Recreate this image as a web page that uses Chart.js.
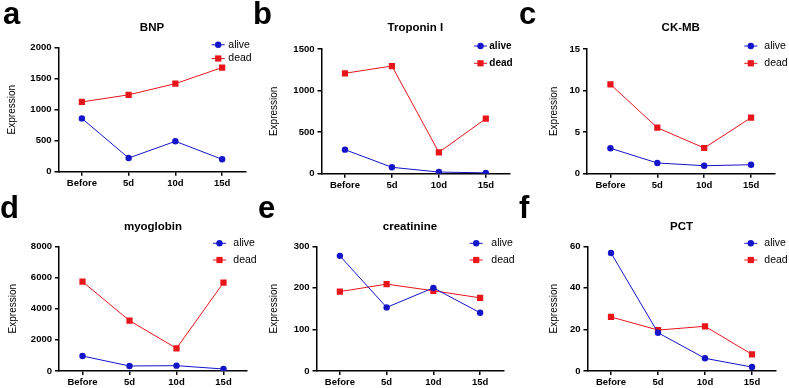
<!DOCTYPE html>
<html><head><meta charset="utf-8">
<script src="https://cdn.jsdelivr.net/npm/chart.js@4.4.0/dist/chart.umd.min.js"></script>
<style>
html,body{margin:0;padding:0;background:#fff;}
#wrap{position:relative;width:789px;height:388px;overflow:hidden;background:#fff;}
.panel{position:absolute;width:263px;height:194px;}
.panel canvas{display:block;}
.letter{position:absolute;font:bold 31px "Liberation Sans",Arial,sans-serif;line-height:31px;color:#000;}
</style></head><body>
<div id="wrap">
  <div class="panel" style="left:0;top:0"><canvas id="c0" width="263" height="194"></canvas></div>
  <div class="panel" style="left:263px;top:0"><canvas id="c1" width="263" height="194"></canvas></div>
  <div class="panel" style="left:526px;top:0"><canvas id="c2" width="263" height="194"></canvas></div>
  <div class="panel" style="left:0;top:194px"><canvas id="c3" width="263" height="194"></canvas></div>
  <div class="panel" style="left:263px;top:194px"><canvas id="c4" width="263" height="194"></canvas></div>
  <div class="panel" style="left:526px;top:194px"><canvas id="c5" width="263" height="194"></canvas></div>
  <div class="letter" style="left:3px;top:-2px">a</div>
  <div class="letter" style="left:253px;top:-2px">b</div>
  <div class="letter" style="left:519px;top:-2px">c</div>
  <div class="letter" style="left:0px;top:192px">d</div>
  <div class="letter" style="left:258px;top:192px">e</div>
  <div class="letter" style="left:519px;top:192px">f</div>
</div>
<script>
const categories = ['Before', '5d', '10d', '15d'];
const seriesNames = ['alive', 'dead'];
const panelTitles = ['BNP', 'Troponin I', 'CK-MB', 'myoglobin', 'creatinine', 'PCT'];
const yAxisTitle = 'Expression';
const yMaxValues = [2000, 1500, 15, 8000, 300, 60];
const yStepValues = [500, 500, 5, 2000, 100, 20];

const bnpAlive = [860, 220, 490, 200];
const bnpDead = [1125, 1240, 1420, 1680];
const troponinAlive = [289, 77, 20, 10];
const troponinDead = [1208, 1295, 257, 662];
const ckmbAlive = [3.06, 1.29, 0.96, 1.08];
const ckmbDead = [10.75, 5.53, 3.09, 6.74];
const myoglobinAlive = [962, 321, 342, 128];
const myoglobinDead = [5730, 3229, 1454, 5668];
const creatinineAlive = [277, 153, 200, 140];
const creatinineDead = [191, 209, 193, 176];
const pctAlive = [56.8, 18.4, 6.1, 1.9];
const pctDead = [26, 19.7, 21.5, 8.0];

const aliveSeries = [bnpAlive, troponinAlive, ckmbAlive, myoglobinAlive, creatinineAlive, pctAlive];
const deadSeries = [bnpDead, troponinDead, ckmbDead, myoglobinDead, creatinineDead, pctDead];

// layout (positions only)
const FONT = '"Liberation Sans", Arial, Helvetica, sans-serif';
const BLUE = '#1414c8';
const RED = '#e8151b';
const layouts = [
  {L:58.5, R:245.5, T:47.7, B:171.7, yt:6.7, ty:28.3, lx:211.7, tx:228.3, ly:[44.8, 58.5], bold:false},
  {L:58.5, R:246.3, T:49,   B:173.7, yt:5.7, ty:28.3, lx:211,   tx:226.3, ly:[46, 63.3],   bold:true},
  {L:61,   R:248.5, T:49,   B:173.7, yt:22.3,ty:28,   lx:218.3, tx:238.3, ly:[46, 63.3],   bold:false},
  {L:59,   R:247,   T:52.3, B:177,   yt:7.3, ty:33.3, lx:213,   tx:233.3, ly:[49.3, 66],   bold:false},
  {L:53.5, R:240.5, T:52.3, B:177,   yt:5,   ty:33.3, lx:206.7, tx:228.3, ly:[49.3, 66],   bold:false},
  {L:61.5, R:249.5, T:52.3, B:177,   yt:22.3,ty:33.3, lx:218.3, tx:238.3, ly:[49.3, 66],   bold:false}
];

function drawMarker(ctx, style, r, x, y, color) {
  ctx.fillStyle = color;
  if (style === 'rect') {
    const s = r * Math.SQRT1_2;
    ctx.fillRect(x - s, y - s, 2 * s, 2 * s);
  } else {
    ctx.beginPath(); ctx.arc(x, y, r, 0, Math.PI * 2); ctx.fill();
  }
}

const panelDeco = {
  id: 'panelDeco',
  afterDraw(chart, args, o) {
    const ctx = chart.ctx, ca = chart.chartArea;
    ctx.save();
    ctx.fillStyle = '#000';
    ctx.font = 'bold 11.5px ' + FONT;
    ctx.textAlign = 'center';
    ctx.textBaseline = 'middle';
    ctx.fillText(o.title, (ca.left + ca.right) / 2, o.ty);
    chart.data.datasets.forEach((ds, i) => {
      const y = o.ly[i];
      ctx.strokeStyle = ds.borderColor; ctx.lineWidth = 1;
      ctx.beginPath(); ctx.moveTo(o.lx, y); ctx.lineTo(o.lx + 13, y); ctx.stroke();
      drawMarker(ctx, ds.pointStyle, ds.pointRadius, o.lx + 6.5, y, ds.backgroundColor);
      ctx.fillStyle = '#000';
      ctx.textAlign = 'left';
      ctx.font = (o.bold ? 'bold 10px ' : '10.5px ') + FONT;
      ctx.fillText(ds.label, o.tx, y);
    });
    ctx.restore();
  }
};

function axisGrid() {
  return {display:true, drawOnChartArea:false, drawTicks:true, tickLength:4, color:'#000', lineWidth:1.5};
}

layouts.forEach((c, i) => {
  new Chart(document.getElementById('c' + i), {
    type: 'line',
    data: {
      labels: categories,
      datasets: [
        {label: seriesNames[0], data: aliveSeries[i], borderColor: BLUE, backgroundColor: BLUE,
         borderWidth: 1, pointStyle: 'circle', pointRadius: 3.2, pointBorderWidth: 0, tension: 0},
        {label: seriesNames[1], data: deadSeries[i], borderColor: RED, backgroundColor: RED,
         borderWidth: 1, pointStyle: 'rect', pointRadius: 4.4, pointBorderWidth: 0, tension: 0}
      ]
    },
    plugins: [panelDeco],
    options: {
      responsive: false, animation: false, devicePixelRatio: 1,
      layout: {padding: {left: 0, top: c.T, right: 263 - c.R, bottom: 0}},
      plugins: {
        legend: {display: false}, title: {display: false}, tooltip: {enabled: false},
        panelDeco: {title: panelTitles[i], ty: c.ty, lx: c.lx, tx: c.tx, ly: c.ly, bold: c.bold}
      },
      scales: {
        x: {
          type: 'category', offset: true,
          grid: axisGrid(),
          border: {display: true, color: '#000', width: 1.5},
          ticks: {color: '#000', font: {family: FONT, size: 9.5, weight: 'bold'}, padding: 2, maxRotation: 0, autoSkip: false},
          afterFit(s) { s.height = 194 - c.B; }
        },
        y: {
          min: 0, max: yMaxValues[i],
          grid: axisGrid(),
          border: {display: true, color: '#000', width: 1.5},
          ticks: {stepSize: yStepValues[i], color: '#000', font: {family: FONT, size: 9.5, weight: 'bold'}, padding: 3,
                  callback: (v) => String(v)},
          title: {display: true, text: yAxisTitle, color: '#000', font: {family: FONT, size: 10}, padding: {top: c.yt, bottom: 0}},
          afterFit(s) { s.width = c.L; }
        }
      }
    }
  });
});
</script>
</body></html>
